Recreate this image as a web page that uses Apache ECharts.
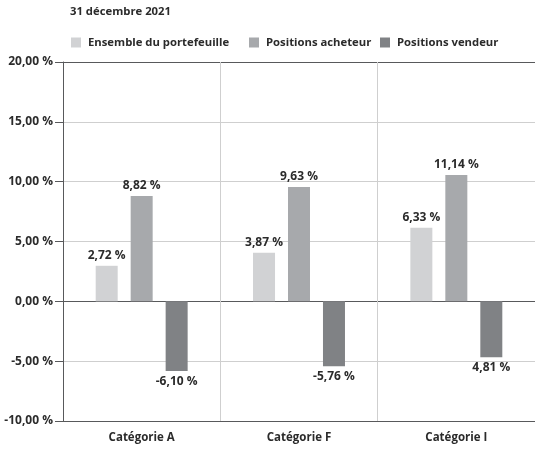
<!DOCTYPE html>
<html>
<head>
<meta charset="utf-8">
<script src="https://cdn.jsdelivr.net/npm/echarts@6/dist/echarts.min.js"></script>
<style>
  html, body { margin: 0; padding: 0; background: #fff; }
  #chart-container { width: 535px; height: 449px; }
</style>
</head>
<body>
<div id="chart-container"></div>
<script>
var categories = ["Catégorie A", "Catégorie F", "Catégorie I"];
var seriesNames = ["Ensemble du portefeuille", "Positions acheteur", "Positions vendeur"];
// bar heights as drawn
var ensemble = [2.97, 4.06, 6.14];
var acheteur = [8.8, 9.56, 10.56];
var vendeur = [-5.83, -5.42, -4.67];
// labels as printed
var ensembleLabels = ["2,72 %", "3,87 %", "6,33 %"];
var acheteurLabels = ["8,82 %", "9,63 %", "11,14 %"];
var vendeurLabels = ["-6,10 %", "-5,76 %", "4,81 %"];
var colors = ["#d1d2d4", "#a7a9ac", "#808285"];

var font = "Open Sans";
var textColor = "#2b2b2b";

var dom = document.getElementById("chart-container");
var myChart = echarts.init(dom, null, { renderer: "canvas" });

function labelOf(arr, pos) {
  return {
    show: true,
    position: pos,
    distance: 4,
    color: textColor,
    fontFamily: font,
    fontWeight: "bold",
    fontSize: 12,
    formatter: function (p) {
      return arr[p.dataIndex];
    },
  };
}

function legendAt(name, left) {
  return {
    data: [name],
    left: left,
    top: 37,
    icon: "rect",
    itemWidth: 10,
    itemHeight: 10,
    itemGap: 0,
    padding: 0,
    textStyle: {
      color: textColor,
      fontFamily: font,
      fontWeight: "bold",
      fontSize: 11.3,
      padding: [0, 0, 0, 2],
    },
  };
}

var option = {
  animation: false,
  color: colors,
  title: {
    text: "31 décembre 2021",
    left: 70,
    top: 6,
    padding: 0,
    textStyle: {
      color: textColor,
      fontFamily: font,
      fontWeight: "bold",
      fontSize: 11.3,
    },
  },
  legend: [
    legendAt(seriesNames[0], 71),
    legendAt(seriesNames[1], 249),
    legendAt(seriesNames[2], 380),
  ],
  grid: { left: 63, right: -6, top: 62, bottom: 28, containLabel: false },
  xAxis: {
    type: "category",
    data: categories,
    axisLine: { onZero: false, lineStyle: { color: "#58595b", width: 1 } },
    axisTick: { show: false },
    axisLabel: {
      color: textColor,
      fontFamily: font,
      fontWeight: "bold",
      fontSize: 11.5,
      margin: 11,
    },
    splitLine: { show: true, lineStyle: { color: "#cfcfcf", width: 1 } },
  },
  yAxis: {
    type: "value",
    min: -10,
    max: 20,
    interval: 5,
    axisLine: { show: true, lineStyle: { color: "#58595b", width: 1 } },
    axisTick: { show: true, length: 8, lineStyle: { color: "#58595b" } },
    axisLabel: {
      color: textColor,
      fontFamily: font,
      fontWeight: "bold",
      fontSize: 12,
      margin: 10,
      formatter: function (v) {
        return v.toFixed(2).replace(".", ",") + " %";
      },
    },
    splitLine: {
      show: true,
      lineStyle: {
        color: ["#58595b", "#cfcfcf", "#58595b", "#cfcfcf", "#cfcfcf", "#cfcfcf", "#58595b"],
        width: 1,
      },
    },
  },
  series: [
    {
      name: seriesNames[0],
      type: "bar",
      data: ensemble,
      barWidth: 22,
      barGap: "59%",
      label: labelOf(ensembleLabels, "top"),
    },
    {
      name: seriesNames[1],
      type: "bar",
      data: acheteur,
      barWidth: 22,
      barGap: "59%",
      label: labelOf(acheteurLabels, "top"),
    },
    {
      name: seriesNames[2],
      type: "bar",
      data: vendeur,
      barWidth: 22,
      barGap: "59%",
      label: labelOf(vendeurLabels, "bottom"),
    },
  ],
};

myChart.setOption(option);
window.addEventListener("resize", myChart.resize);
</script>
</body>
</html>
